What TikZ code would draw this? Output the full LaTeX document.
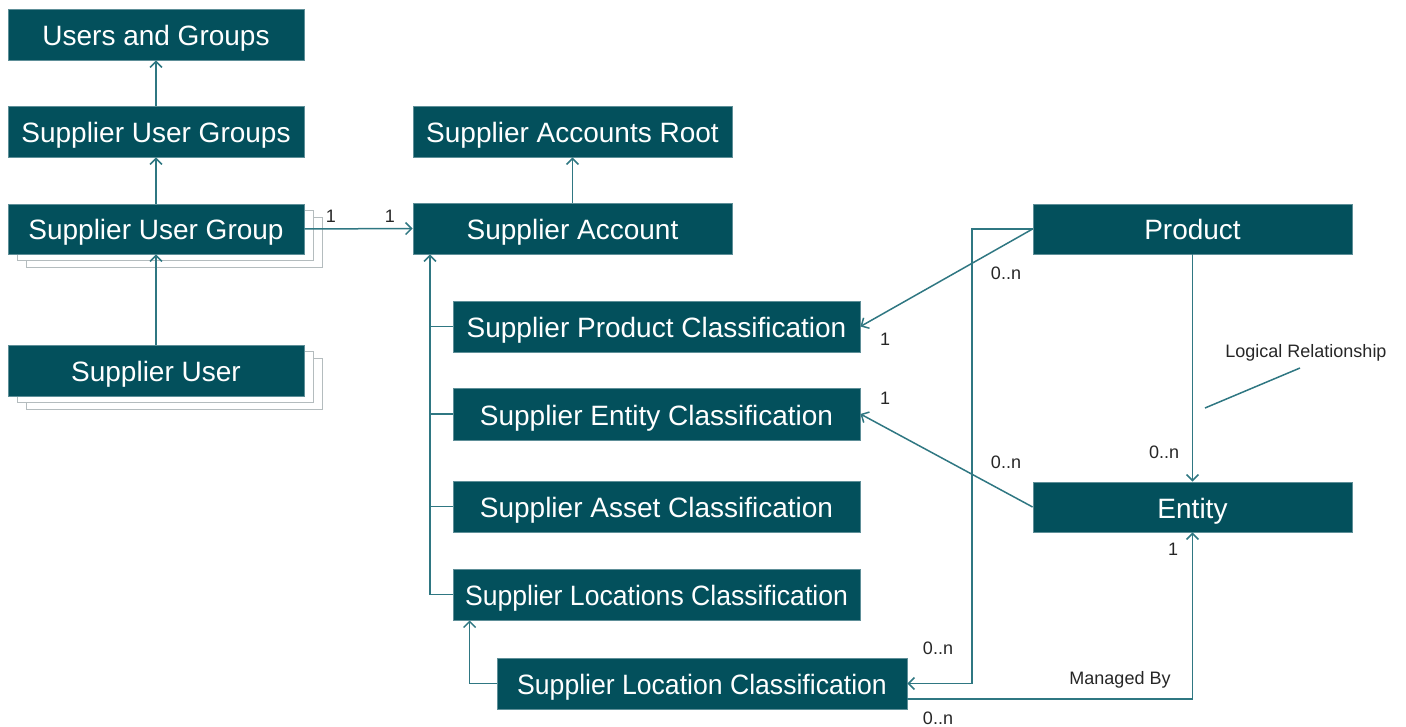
\documentclass[tikz,border=0pt]{standalone}
\usepackage{fontspec}
\setmainfont{Liberation Sans}
\usetikzlibrary{arrows.meta,shadows,calc}
\definecolor{boxfill}{HTML}{03505C}
\definecolor{boxedge}{HTML}{5E8F98}
\definecolor{conncol}{HTML}{2F7782}
\definecolor{shadedge}{HTML}{B4BCBE}
\begin{document}
\begin{tikzpicture}[x=1pt,y=-1pt,
  box/.style={rectangle, fill=boxfill, draw=boxedge, line width=0.8pt, text=white,
    inner sep=0pt, text height=26pt, text depth=4pt, font=\fontsize{28}{30}\selectfont},
  stackbox/.style={box, double copy shadow={shadow xshift=9pt, shadow yshift=-6.5pt,
    fill=white, draw=shadedge, line width=0.8pt}},
  conn/.style={draw=conncol, line width=1.5pt},
  arr/.style={conn, -{Straight Barb[length=6pt,width=12pt,line width=1.5pt]}},
  lbl/.style={inner sep=0pt, text=black!85, font=\fontsize{18}{20}\selectfont}]
\useasboundingbox (0,0) rectangle (1406,727);

% left column
\node[box, minimum width=296pt, minimum height=51pt] (ug) at (156,34.5) {Users and Groups};
\node[box, minimum width=296pt, minimum height=51pt] (sugs) at (156,131.5) {Supplier User Groups};
\node[stackbox, minimum width=296pt, minimum height=50pt] (sug) at (156,229) {Supplier User Group};
\node[stackbox, minimum width=296pt, minimum height=51pt] (su) at (156,370.5) {Supplier User};

% middle column
\node[box, minimum width=319pt, minimum height=51pt] (sar) at (572.5,131.5) {Supplier Accounts Root};
\node[box, minimum width=319pt, minimum height=51pt] (sa) at (572.5,228.5) {Supplier Account};
\node[box, minimum width=407pt, minimum height=51pt] (spc) at (656.5,326.5) {Supplier Product Classification};
\node[box, minimum width=407pt, minimum height=52pt] (sec) at (656.5,414) {Supplier Entity Classification};
\node[box, minimum width=407pt, minimum height=51pt] (sac) at (656.5,506.5) {Supplier Asset Classification};
\node[box, minimum width=407pt, minimum height=51pt] (slsc) at (656.5,594.5) {\scalebox{0.95}[1]{Supplier Locations Classification}};
\node[box, minimum width=410pt, minimum height=51pt] (slc) at (702,683.5) {\scalebox{0.95}[1]{Supplier Location Classification}};

% right column
\node[box, minimum width=319pt, minimum height=50pt] (prod) at (1192.5,229) {Product};
\node[box, minimum width=319pt, minimum height=50pt] (ent) at (1192.5,507) {Entity};

% left column connectors
\draw[arr] (sugs.north) -- (ug.south);
\draw[arr] (sug.north) -- (sugs.south);
\draw[arr] (su.north) -- (sug.south);
\draw[arr] (sug.east) -- (sa.west);
\node[lbl] (l1a) at (331,216) {1};
\node[lbl] (l1b) at (390,216) {1};

% middle connectors
\draw[arr] (sa.north) -- (sar.south);
\coordinate (tb) at (430,594.5);
\draw[arr] (slsc.west) -- (tb) -- (tb |- sa.south);
\draw[conn] (spc.west) -- (spc.west -| tb);
\draw[conn] (sec.west) -- (sec.west -| tb);
\draw[conn] (sac.west) -- (sac.west -| tb);
\coordinate (slup) at ($(slsc.south west)+(17,0)$);
\draw[arr] (slc.west) -| (slup);

% right connectors
\draw[arr] (prod.west) -- (spc.east);
\draw[arr] (ent.west) -- (sec.east);
\draw[arr] (prod.south) -- (ent.north);
\coordinate (pv) at (972,229);
\draw[arr] (prod.west) -- (pv) |- (slc.east);
\coordinate (mb) at ($(slc.east)+(0,15.5)$);
\draw[arr] (mb) -| (ent.south);

% logical relationship note
\coordinate (lra) at (1205,408);
\coordinate (lrb) at (1300,368);
\draw[conn] (lra) -- (lrb);
\node[lbl] (lrt) at (1306,353) {Logical Relationship};

% multiplicity labels
\node[lbl] (m1) at (1006,273) {0..n};
\node[lbl] (m2) at (885,339) {1};
\node[lbl] (m3) at (885,398) {1};
\node[lbl] (m4) at (1006,462) {0..n};
\node[lbl] (m5) at (1164,452) {0..n};
\node[lbl] (m6) at (1173,549) {1};
\node[lbl] (m7) at (938,648) {0..n};
\node[lbl] (m8) at (1120,680) {Managed By};
\node[lbl] (m9) at (938,718) {0..n};
\end{tikzpicture}
\end{document}
